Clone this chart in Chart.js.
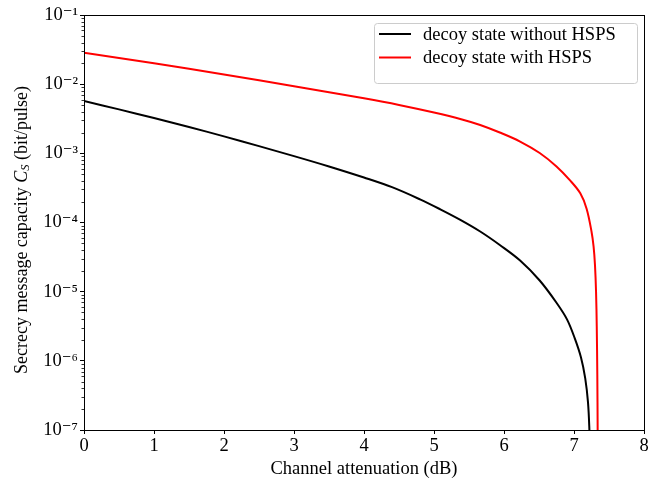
<!DOCTYPE html>
<html>
<head>
<meta charset="utf-8">
<script src="https://cdn.jsdelivr.net/npm/chart.js@4"></script>
<style>
  html, body { margin: 0; padding: 0; background: #fff; }
</style>
</head>
<body>
<canvas id="chart" width="670" height="485"></canvas>
<script>
// channel attenuation (dB) and secrecy capacity (bit/pulse)
const xNoHsps = [0, 0.5, 1, 1.5, 2, 2.5, 3, 3.5, 4, 4.4, 4.8, 5.09, 5.37, 5.66, 5.94, 6.23, 6.51, 6.75, 6.9, 7.01, 7.1, 7.16, 7.2, 7.22, 7.23];
const yNoHsps = [5.70e-3, 4.32e-3, 3.24e-3, 2.40e-3, 1.76e-3, 1.27e-3, 9.12e-4, 6.46e-4, 4.47e-4, 3.24e-4, 2.16e-4, 1.55e-4, 1.10e-4, 7.41e-5, 4.73e-5, 2.82e-5, 1.45e-5, 6.92e-6, 3.98e-6, 2.13e-6, 1.12e-6, 5.62e-7, 2.51e-7, 1.0e-7, 3.98e-8];

const xHsps = [0, 1, 2, 3, 4, 4.5, 5, 5.4, 5.66, 5.94, 6.23, 6.51, 6.75, 6.94, 7.09, 7.18, 7.25, 7.28, 7.3, 7.315, 7.325, 7.333, 7.338, 7.342];
const yHsps = [2.85e-2, 2.00e-2, 1.38e-2, 9.33e-3, 6.24e-3, 5.01e-3, 3.89e-3, 3.09e-3, 2.57e-3, 2.00e-3, 1.48e-3, 1.01e-3, 6.46e-4, 4.10e-4, 2.64e-4, 1.58e-4, 7.41e-5, 4.47e-5, 2.40e-5, 1.0e-5, 3.16e-6, 6.31e-7, 1.0e-7, 1.58e-8];

const seriesLabels = ['decoy state without HSPS', 'decoy state with HSPS'];
const xTicks = [0, 1, 2, 3, 4, 5, 6, 7, 8];
const yDecades = [1e-7, 1e-6, 1e-5, 1e-4, 1e-3, 1e-2, 1e-1];
const yTickLabels = ['10\u207B\u2077', '10\u207B\u2076', '10\u207B\u2075', '10\u207B\u2074', '10\u207B\u00B3', '10\u207B\u00B2', '10\u207B\u00B9'];

const SERIF = '"Liberation Serif", "DejaVu Serif", serif';
const FS = 18.5;

function pts(xs, ys) {
    return xs.map((x, i) => ({ x: x, y: ys[i] }));
}

// frame, minor ticks, y title and legend box drawn over the chart
const extras = {
    id: 'extras',
    afterDraw(chart) {
        const ctx = chart.ctx;
        const a = chart.chartArea;
        const ys = chart.scales.y;
        ctx.save();

        // minor log ticks
        ctx.strokeStyle = '#000';
        ctx.lineWidth = 0.8;
        for (let d = -7; d < -1; d++) {
            for (let m = 2; m <= 9; m++) {
                const py = Math.round(ys.getPixelForValue(m * Math.pow(10, d))) + 0.5;
                ctx.beginPath();
                ctx.moveTo(a.left - 2.5, py);
                ctx.lineTo(a.left, py);
                ctx.stroke();
            }
        }

        // full box around the plot
        ctx.lineWidth = 1;
        ctx.strokeRect(Math.round(a.left) + 0.5, Math.round(a.top) + 0.5,
            Math.round(a.right - a.left), Math.round(a.bottom - a.top));

        // y axis title with italic C_S
        ctx.translate(22, 230);
        ctx.rotate(-Math.PI / 2);
        ctx.textBaseline = 'middle';
        const parts = [
            ['18px ' + SERIF, 'Secrecy message capacity ', 0],
            ['italic 18px ' + SERIF, 'C', 0],
            ['italic 12.5px ' + SERIF, 'S', 3.5],
            ['18px ' + SERIF, ' (bit/pulse)', 0]
        ];
        let total = 0;
        parts.forEach(p => { ctx.font = p[0]; total += ctx.measureText(p[1]).width; });
        let cx = -total / 2;
        ctx.fillStyle = '#000';
        parts.forEach(p => {
            ctx.font = p[0];
            ctx.fillText(p[1], cx, p[2]);
            cx += ctx.measureText(p[1]).width;
        });
        ctx.setTransform(1, 0, 0, 1, 0, 0);

        // legend
        const lx = 374, ly = 23, lw = 263, lh = 60;
        ctx.beginPath();
        ctx.roundRect(lx + 0.5, ly + 0.5, lw, lh, 3);
        ctx.fillStyle = 'rgba(255,255,255,0.8)';
        ctx.fill();
        ctx.strokeStyle = '#cccccc';
        ctx.lineWidth = 1;
        ctx.stroke();
        ctx.font = FS + 'px ' + SERIF;
        ctx.textBaseline = 'middle';
        chart.data.datasets.forEach((ds, i) => {
            const rowY = ly + 11 + i * 23.5;
            ctx.strokeStyle = ds.borderColor;
            ctx.lineWidth = 2;
            ctx.beginPath();
            ctx.moveTo(lx + 5, rowY);
            ctx.lineTo(lx + 37, rowY);
            ctx.stroke();
            ctx.fillStyle = '#000';
            ctx.fillText(ds.label, lx + 49, rowY + 1);
        });
        ctx.restore();
    }
};

new Chart(document.getElementById('chart').getContext('2d'), {
    type: 'line',
    data: {
        datasets: [{
            label: seriesLabels[0],
            data: pts(xNoHsps, yNoHsps),
            borderColor: '#000000',
            borderWidth: 2,
            pointRadius: 0,
            tension: 0.35
        }, {
            label: seriesLabels[1],
            data: pts(xHsps, yHsps),
            borderColor: '#ff0000',
            borderWidth: 2,
            pointRadius: 0,
            tension: 0.35
        }]
    },
    options: {
        responsive: false,
        animation: false,
        layout: { padding: { top: 15, right: 26, left: 0, bottom: 0 } },
        plugins: {
            legend: { display: false },
            tooltip: { enabled: false }
        },
        scales: {
            x: {
                type: 'linear',
                min: 0,
                max: 8,
                afterBuildTicks: s => { s.ticks = xTicks.map(v => ({ value: v })); },
                afterFit: s => { s.height = 55; },
                grid: { drawOnChartArea: false, tickLength: 4, color: '#000', tickColor: '#000' },
                border: { color: '#000' },
                ticks: { color: '#000', padding: 1, autoSkip: false, maxRotation: 0, font: { family: SERIF, size: FS } },
                title: {
                    display: true,
                    text: 'Channel attenuation (dB)',
                    color: '#000',
                    font: { family: SERIF, size: FS },
                    padding: { top: 0, bottom: 5 }
                }
            },
            y: {
                type: 'logarithmic',
                min: 1e-7,
                max: 1e-1,
                afterBuildTicks: s => { s.ticks = yDecades.map(v => ({ value: v })); },
                afterFit: s => { s.width = 84; },
                grid: { drawOnChartArea: false, tickLength: 4, color: '#000', tickColor: '#000' },
                border: { color: '#000' },
                ticks: {
                    color: '#000',
                    padding: 2,
                    autoSkip: false,
                    font: { family: SERIF, size: FS },
                    callback: v => yTickLabels[yDecades.findIndex(d => Math.abs(Math.log10(d) - Math.log10(v)) < 1e-6)]
                }
            }
        }
    },
    plugins: [extras]
});
</script>
</body>
</html>
